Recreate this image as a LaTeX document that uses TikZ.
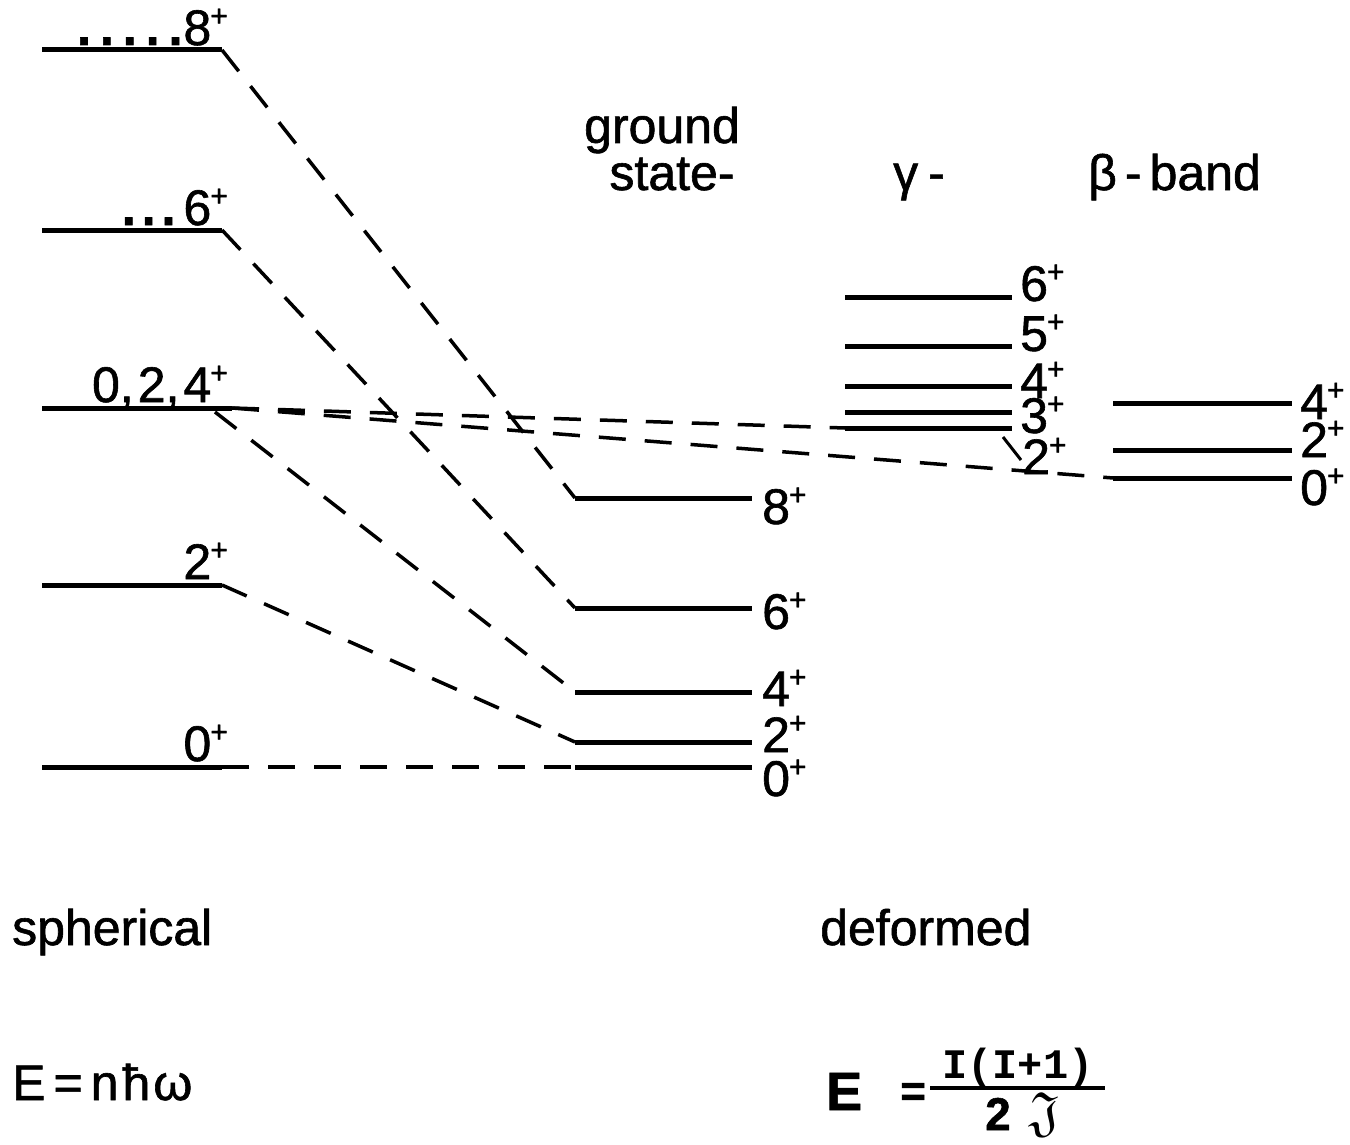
\documentclass[tikz,border=0pt]{standalone}
\usepackage{fontspec}
\usepackage{graphicx}
\usepackage{amssymb}
\setmainfont{Liberation Sans}[FakeBold=1.2]
\newfontfamily\monof{Liberation Mono}
\newcommand\plsup{\kern-1pt\raisebox{19pt}{\fontsize{30}{30}\selectfont +}}
\newcommand\dotsp{\hspace{9pt}}
\begin{document}
\begin{tikzpicture}[x=1pt,y=-1pt,
  lvl/.style={line width=5pt},
  conn/.style={line width=3.5pt, dash pattern=on 27pt off 19pt},
  lab/.style={inner sep=0pt, font=\fontsize{50}{50}\selectfont},
  txt/.style={inner sep=0pt, font=\fontsize{50}{60}\selectfont}]
\useasboundingbox[fill=white] (0,0) rectangle (1350,1145);

% ---------- spherical levels ----------
\coordinate (s8L) at (42,50);   \coordinate (s8R) at (222,50);
\coordinate (s6L) at (42,230);  \coordinate (s6R) at (222,230);
\coordinate (s4L) at (42,408);  \coordinate (s4R) at (232,408);
\coordinate (s4S) at (215,412);
\coordinate (s2L) at (42,585);  \coordinate (s2R) at (222,585);
\coordinate (s0L) at (42,767);  \coordinate (s0R) at (222,767);
\foreach \a in {s8,s6,s4,s2,s0} \draw[lvl] (\a L) -- (\a R);

\node[lab, anchor=base east] (ls8) at (228,45) {\textbf{.\dotsp.\dotsp.\dotsp.\dotsp.}\hspace{1pt}8\plsup};
\node[lab, anchor=base east] (ls6) at (228,225) {\textbf{.\hspace{6pt}.\hspace{6pt}.}\hspace{8pt}6\plsup};
\node[lab, anchor=base east] (ls4) at (228,402) {0,\hspace{4pt}2,\hspace{4pt}4\plsup};
\node[lab, anchor=base east] (ls2) at (228,579) {2\plsup};
\node[lab, anchor=base east] (ls0) at (228,761) {0\plsup};

% ---------- ground-state band ----------
\coordinate (g8L) at (575,498); \coordinate (g8R) at (752,498);
\coordinate (g6L) at (575,608); \coordinate (g6R) at (752,608);
\coordinate (g4L) at (575,692); \coordinate (g4R) at (752,692);
\coordinate (g2L) at (575,742); \coordinate (g2R) at (752,742);
\coordinate (g0L) at (575,767); \coordinate (g0R) at (752,767);
\foreach \a in {g8,g6,g4,g2,g0} \draw[lvl] (\a L) -- (\a R);

\node[lab, anchor=west] (lg8) at (762,506) {8\plsup};
\node[lab, anchor=west] (lg6) at (762,611) {6\plsup};
\node[lab, anchor=west] (lg4) at (762,688) {4\plsup};
\node[lab, anchor=west] (lg2) at (762,734) {2\plsup};
\node[lab, anchor=west] (lg0) at (762,778) {0\plsup};

% ---------- gamma band ----------
\coordinate (y6L) at (845,297); \coordinate (y6R) at (1012,297);
\coordinate (y5L) at (845,346); \coordinate (y5R) at (1012,346);
\coordinate (y4L) at (845,386); \coordinate (y4R) at (1012,386);
\coordinate (y3L) at (845,412); \coordinate (y3R) at (1012,412);
\coordinate (y2L) at (845,428); \coordinate (y2R) at (1012,428);
\foreach \a in {y6,y5,y4,y3,y2} \draw[lvl] (\a L) -- (\a R);

\node[lab, anchor=west] (ly6) at (1020,283) {6\plsup};
\node[lab, anchor=west] (ly5) at (1020,333) {5\plsup};
\node[lab, anchor=west] (ly4) at (1020,380) {4\plsup};
\node[lab, anchor=west] (ly3) at (1020,415) {3\plsup};
\node[lab, anchor=west] (ly2) at (1022,456) {2\plsup};
\coordinate (ldA) at (1003,437);
\coordinate (ldB) at (1021,460);
\draw[line width=3pt] (ldA) -- (ldB);

% ---------- beta band ----------
\coordinate (b4L) at (1113,403); \coordinate (b4R) at (1292,403);
\coordinate (b2L) at (1113,450); \coordinate (b2R) at (1292,450);
\coordinate (b0L) at (1113,478); \coordinate (b0R) at (1292,478);
\foreach \a in {b4,b2,b0} \draw[lvl] (\a L) -- (\a R);

\node[lab, anchor=west] (lb4) at (1300,401) {4\plsup};
\node[lab, anchor=west] (lb2) at (1300,439) {2\plsup};
\node[lab, anchor=west] (lb0) at (1300,487) {0\plsup};

% ---------- correlation lines ----------
\draw[conn] (s8R) -- (g8L);
\draw[conn] (s6R) -- (g6L);
\draw[conn] (s4S) -- (g4L);
\draw[conn] (s2R) -- (g2L);
\draw[conn] (s0R) -- (g0L);
\draw[conn] (s4R) -- (y2L);
\draw[conn] (s4R) -- (b0L);

% ---------- headings ----------
\node[txt, anchor=base] (hgr) at (662,143) {ground};
\node[txt, anchor=base] (hst) at (672,190) {state-};
\node[txt, anchor=base west] (hga) at (893,190) {γ\hspace{10pt}-};
\node[txt, anchor=base west] (hbe) at (1088,190) {β\hspace{8pt}-\hspace{8pt}band};

\node[txt, anchor=base west] (hsp) at (12,945) {spherical};
\node[txt, anchor=base west] (hde) at (820,945) {deformed};

% ---------- formulas ----------
\node[txt, anchor=base west] (fsp) at (12,1100) {E\hspace{8pt}=\hspace{8pt}n\hspace{4pt}ħ\hspace{3pt}ω};

\node[inner sep=0pt, font=\fontsize{54}{60}\selectfont\bfseries, anchor=base west] (fdE) at (826,1110) {E};
\node[inner sep=0pt, font=\fontsize{44}{44}\selectfont\bfseries, anchor=base west] (fdq) at (900,1106) {=};
\node[inner sep=0pt, font=\fontsize{42}{42}\selectfont\monof\bfseries, anchor=base] (fnum) at (1018,1078) {I(I+1)};
\coordinate (barL) at (930,1088);
\coordinate (barR) at (1105,1088);
\draw[line width=3.5pt] (barL) -- (barR);
\node[inner sep=0pt, font=\fontsize{46}{46}\selectfont\bfseries, anchor=base] (fd2) at (998,1130) {2};
\node[inner sep=0pt, anchor=base] (fdJ) at (1045,1130) {\scalebox{5.5}{$\mathfrak{J}$}};
\end{tikzpicture}
\end{document}
